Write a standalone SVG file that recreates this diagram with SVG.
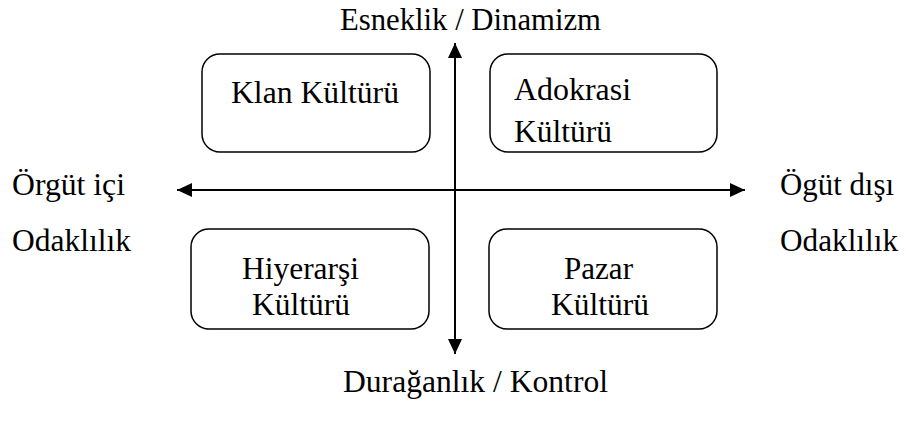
<svg xmlns="http://www.w3.org/2000/svg" width="906" height="425" viewBox="0 0 906 425">
  <style>
    .box { fill: #ffffff; stroke: #000000; stroke-width: 1.5; }
    .axis { stroke: #000000; stroke-width: 2; fill: none; marker-start: url(#head); marker-end: url(#head); }
    text { font-family: "Liberation Serif", "Times New Roman", serif; font-size: 32px; fill: #000000; }
  </style>
  <defs>
    <marker id="head" markerUnits="userSpaceOnUse" markerWidth="16" markerHeight="14" refX="15" refY="7" orient="auto-start-reverse">
      <path d="M0,0 L15,7 L0,14 Z" fill="#000000"/>
    </marker>
  </defs>

  <rect width="906" height="425" fill="#ffffff"/>

  <!-- axis labels -->
  <g id="label-top">
    <text x="340" y="30" textLength="261" lengthAdjust="spacingAndGlyphs">Esneklik / Dinamizm</text>
  </g>
  <g id="label-bottom">
    <text x="343" y="392" textLength="265" lengthAdjust="spacingAndGlyphs">Durağanlık / Kontrol</text>
  </g>
  <g id="label-left">
    <text x="12" y="195" textLength="113" lengthAdjust="spacingAndGlyphs">Örgüt içi</text>
    <text x="12" y="251" textLength="119" lengthAdjust="spacingAndGlyphs">Odaklılık</text>
  </g>
  <g id="label-right">
    <text x="780" y="195" textLength="114" lengthAdjust="spacingAndGlyphs">Ögüt dışı</text>
    <text x="780" y="251" textLength="118" lengthAdjust="spacingAndGlyphs">Odaklılık</text>
  </g>

  <!-- quadrant boxes -->
  <g id="klan">
    <rect class="box" x="202" y="54" width="228" height="98" rx="18"/>
    <text x="231" y="103" textLength="168" lengthAdjust="spacingAndGlyphs">Klan Kültürü</text>
  </g>
  <g id="adokrasi">
    <rect class="box" x="490" y="54" width="227" height="98" rx="18"/>
    <text x="514" y="100" textLength="117" lengthAdjust="spacingAndGlyphs">Adokrasi</text>
    <text x="514" y="142" textLength="98" lengthAdjust="spacingAndGlyphs">Kültürü</text>
  </g>
  <g id="hiyerarsi">
    <rect class="box" x="191" y="229" width="238" height="100" rx="18"/>
    <text x="242" y="279" textLength="117" lengthAdjust="spacingAndGlyphs">Hiyerarşi</text>
    <text x="252" y="315" textLength="98" lengthAdjust="spacingAndGlyphs">Kültürü</text>
  </g>
  <g id="pazar">
    <rect class="box" x="489" y="229" width="228" height="100" rx="18"/>
    <text x="564" y="279" textLength="69" lengthAdjust="spacingAndGlyphs">Pazar</text>
    <text x="551" y="315" textLength="98" lengthAdjust="spacingAndGlyphs">Kültürü</text>
  </g>

  <!-- axes -->
  <g id="connectors">
    <line class="axis" x1="455" y1="354" x2="455" y2="43"/>
    <line class="axis" x1="177" y1="190" x2="745" y2="190"/>
  </g>
</svg>
